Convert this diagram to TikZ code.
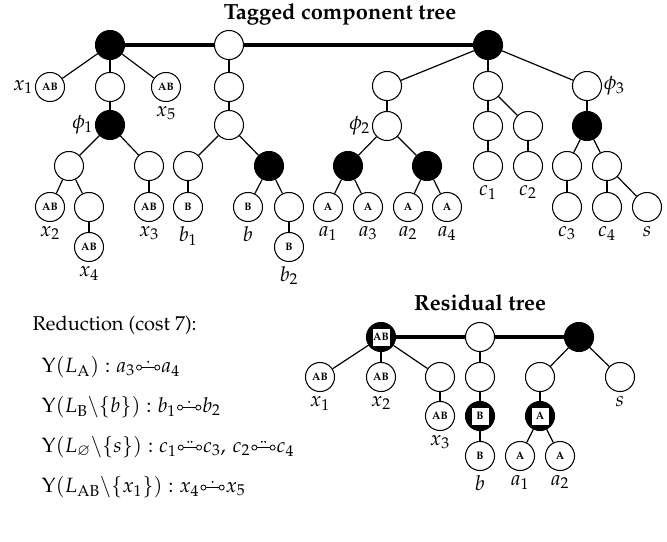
\documentclass[tikz,border=0pt]{standalone}
\usepackage[T1]{fontenc}
\usepackage{mathpazo}
\usepackage{amssymb}
\newcommand{\cnlink}[1]{\mathord{\mkern1mu\tikz[baseline=-0.5ex]{\draw[line width=0.5pt] (0,0) circle (1.6pt) (1.6pt,0) -- (9.9pt,0) (11.5pt,0) circle (1.6pt);\ifcase#1\or\fill (5.75pt,3.6pt) circle (0.65pt);\or\fill (4.7pt,3.6pt) circle (0.65pt) (6.8pt,3.6pt) circle (0.65pt);\fi}\mkern1mu}}
\begin{document}
\begin{tikzpicture}[x=0.63pt,y=-0.63pt,
  nd/.style={circle,draw,line width=0.65pt,minimum size=18.3pt,inner sep=0pt,fill=white,font=\fontsize{6.8}{7.5}\selectfont\bfseries},
  bk/.style={nd,fill=black},
  sq/.style={rectangle,fill=white,minimum size=10.7pt,inner sep=0pt,font=\fontsize{6.8}{7.5}\selectfont\bfseries},
  vt/.style={line width=1.4pt},
  dg/.style={line width=0.75pt},
  hz/.style={line width=2pt},
  lbl/.style={font=\fontsize{13}{15}\selectfont,inner sep=1pt},
  lb/.style={label={[lbl,label distance=1.5pt]below:#1}},
  ll/.style={label={[lbl,label distance=0pt]left:#1}},
  lr/.style={label={[lbl,label distance=0pt]right:#1}},
  ttl/.style={font=\fontsize{13.8}{16}\selectfont\bfseries},
  txt/.style={anchor=west,font=\fontsize{12.6}{14}\selectfont},
  eqn/.style={anchor=west,font=\fontsize{13}{15}\selectfont}]
\useasboundingbox (0,0) rectangle (667,541);
% titles
\node[ttl] (t1) at (340,14) {Tagged component tree};
\node[ttl] (t2) at (480,303) {Residual tree};
% tagged tree: left part
\node[bk] (r1) at (110,45) {};
\node[nd] (r2) at (229,45) {};
\node[bk] (r3) at (488,45) {};
\node[nd,ll={$x_1$}] (x1) at (50,87) {AB};
\node[nd] (n11) at (110,87) {};
\node[nd,lb={$x_5$}] (x5) at (166,87) {AB};
\node[bk,ll={$\phi_1$}] (p1) at (110,125) {};
\node[nd] (n13) at (69,166) {};
\node[nd] (n14) at (149,166) {};
\node[nd,lb={$x_2$}] (x2) at (50,207) {AB};
\node[nd] (n15) at (89,207) {};
\node[nd,lb={$x_4$}] (x4) at (89,247) {AB};
\node[nd,lb={$x_3$}] (x3) at (149,207) {AB};
% middle part
\node[nd] (m1) at (229,87) {};
\node[nd] (m2) at (229,125) {};
\node[nd] (m3) at (188,166) {};
\node[bk] (m4) at (269,166) {};
\node[nd,lb={$b_1$}] (b1) at (188,207) {B};
\node[nd,lb={$b$}] (bb) at (248,207) {B};
\node[nd] (m5) at (289,207) {};
\node[nd,lb={$b_2$}] (b2) at (289,247) {B};
% right part
\node[nd] (q1) at (387,86) {};
\node[nd,ll={$\phi_2$}] (q2) at (387,126) {};
\node[bk] (q3) at (348,166) {};
\node[bk] (q4) at (427,166) {};
\node[nd,lb={$a_1$}] (a1) at (328,207) {A};
\node[nd,lb={$a_3$}] (a3) at (368,207) {A};
\node[nd,lb={$a_2$}] (a2) at (408,207) {A};
\node[nd,lb={$a_4$}] (a4) at (447,207) {A};
\node[nd] (c0) at (488,86) {};
\node[nd] (c1) at (488,126) {};
\node[nd] (c2) at (528,126) {};
\node[nd,lb={$c_1$}] (c1b) at (488,166) {};
\node[nd,lb={$c_2$}] (c2b) at (528,166) {};
\node[nd,lr={$\phi_3$}] (f3) at (587,86) {};
\node[bk] (f4) at (587,126) {};
\node[nd] (f5) at (567,166) {};
\node[nd] (f6) at (607,166) {};
\node[nd,lb={$c_3$}] (c3) at (567,207) {};
\node[nd,lb={$c_4$}] (c4) at (607,207) {};
\node[nd,lb={$s$}] (s) at (647,207) {};
% edges tagged tree
\draw[hz] (r1) -- (r2);
\draw[hz] (r2) -- (r3);
\draw[dg] (r1) -- (x1);
\draw[vt] (r1) -- (n11);
\draw[dg] (r1) -- (x5);
\draw[vt] (n11) -- (p1);
\draw[dg] (p1) -- (n13);
\draw[dg] (p1) -- (n14);
\draw[dg] (n13) -- (x2);
\draw[dg] (n13) -- (n15);
\draw[vt] (n15) -- (x4);
\draw[vt] (n14) -- (x3);
\draw[vt] (r2) -- (m1);
\draw[vt] (m1) -- (m2);
\draw[dg] (m2) -- (m3);
\draw[dg] (m2) -- (m4);
\draw[vt] (m3) -- (b1);
\draw[dg] (m4) -- (bb);
\draw[dg] (m4) -- (m5);
\draw[vt] (m5) -- (b2);
\draw[dg] (r3) -- (q1);
\draw[vt] (r3) -- (c0);
\draw[dg] (r3) -- (f3);
\draw[vt] (q1) -- (q2);
\draw[dg] (q2) -- (q3);
\draw[dg] (q2) -- (q4);
\draw[dg] (q3) -- (a1);
\draw[dg] (q3) -- (a3);
\draw[dg] (q4) -- (a2);
\draw[dg] (q4) -- (a4);
\draw[vt] (c0) -- (c1);
\draw[dg] (c0) -- (c2);
\draw[vt] (c1) -- (c1b);
\draw[vt] (c2) -- (c2b);
\draw[vt] (f3) -- (f4);
\draw[dg] (f4) -- (f5);
\draw[dg] (f4) -- (f6);
\draw[vt] (f5) -- (c3);
\draw[vt] (f6) -- (c4);
\draw[dg] (f6) -- (s);
% residual tree
\node[bk] (R1) at (381,337) {};
\node[sq] (R1s) at (R1) {AB};
\node[nd] (R2) at (480,337) {};
\node[bk] (R3) at (579,337) {};
\node[nd,lb={$x_1$}] (rx1) at (320,377) {AB};
\node[nd,lb={$x_2$}] (rx2) at (381,377) {AB};
\node[nd] (R4) at (440,377) {};
\node[nd,lb={$x_3$}] (rx3) at (440,416) {AB};
\node[nd] (R5) at (480,377) {};
\node[bk] (R6) at (480,416) {};
\node[sq] (R6s) at (R6) {B};
\node[nd,lb={$b$}] (rb) at (480,456) {B};
\node[nd] (R7) at (540,377) {};
\node[bk] (R8) at (540,416) {};
\node[sq] (R8s) at (R8) {A};
\node[nd,lb={$a_1$}] (ra1) at (520,456) {A};
\node[nd,lb={$a_2$}] (ra2) at (560,456) {A};
\node[nd,lb={$s$}] (rs) at (620,377) {};
\draw[hz] (R1) -- (R2);
\draw[hz] (R2) -- (R3);
\draw[dg] (R1) -- (rx1);
\draw[vt] (R1) -- (rx2);
\draw[dg] (R1) -- (R4);
\draw[vt] (R4) -- (rx3);
\draw[vt] (R2) -- (R5);
\draw[vt] (R5) -- (R6);
\draw[vt] (R6) -- (rb);
\draw[dg] (R3) -- (R7);
\draw[dg] (R3) -- (rs);
\draw[vt] (R7) -- (R8);
\draw[dg] (R8) -- (ra1);
\draw[dg] (R8) -- (ra2);
% reduction text
\node[txt] (red) at (27,325) {Reduction (cost 7):};
\node[eqn] (e1) at (36,367) {$\Upsilon(L_{\mathrm{A}}) : a_3\cnlink{1}a_4$};
\node[eqn] (e2) at (36,407) {$\Upsilon(L_{\mathrm{B}}\backslash\{b\}) : b_1\cnlink{1}b_2$};
\node[eqn] (e3) at (36,447) {$\Upsilon(L_{\varnothing}\backslash\{s\}) : c_1\cnlink{2}c_3,\, c_2\cnlink{2}c_4$};
\node[eqn] (e4) at (36,487) {$\Upsilon(L_{\mathrm{AB}}\backslash\{x_1\}) : x_4\cnlink{1}x_5$};
\end{tikzpicture}
\end{document}
